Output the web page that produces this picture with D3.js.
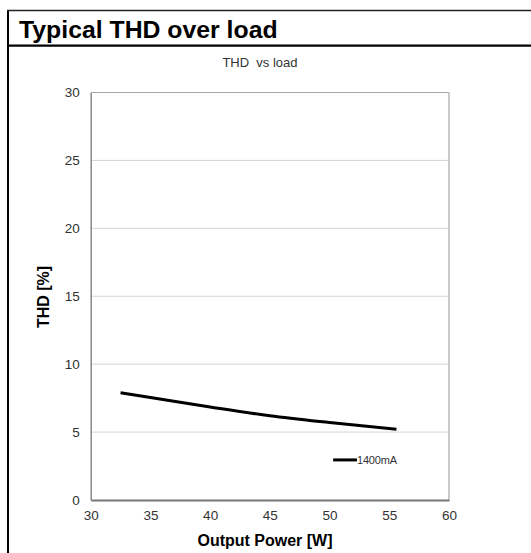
<!DOCTYPE html>
<html>
<head>
<meta charset="utf-8">
<script src="https://cdn.jsdelivr.net/npm/d3@7"></script>
<style>
  html, body { margin: 0; padding: 0; background: #fff; }
  svg { display: block; }
  text { font-family: Arial, "Liberation Sans", sans-serif; }
</style>
</head>
<body>
<svg id="chart" width="531" height="553"></svg>
<script>
// ---- data ----
const outputPower = [32.5, 35, 40, 45, 50, 55.6];
const thd1400mA   = [7.9, 7.55, 6.85, 6.2, 5.7, 5.2];
const seriesName  = "1400mA";
const xTicks = [30, 35, 40, 45, 50, 55, 60];
const yTicks = [0, 5, 10, 15, 20, 25, 30];
const pageTitle = "Typical THD over load";
const chartTitle = "THD  vs load";
const xLabel = "Output Power [W]";
const yLabel = "THD [%]";

// ---- layout ----
const W = 531, H = 553;
const plot = { left: 90.7, right: 449, top: 92.5, bottom: 500 };

const svg = d3.select("#chart");

// frame
svg.append("line").attr("x1", 8).attr("x2", 8).attr("y1", 10).attr("y2", H)
  .attr("stroke", "#000").attr("stroke-width", 2);
svg.append("line").attr("x1", 7).attr("x2", W).attr("y1", 10.5).attr("y2", 10.5)
  .attr("stroke", "#222").attr("stroke-width", 1.5);
svg.append("line").attr("x1", 7).attr("x2", W).attr("y1", 45.7).attr("y2", 45.7)
  .attr("stroke", "#000").attr("stroke-width", 2.2);
svg.append("text").attr("x", 19).attr("y", 37.5)
  .attr("font-size", 24.8).attr("font-weight", "bold").attr("fill", "#000")
  .text(pageTitle);

// scales
const x = d3.scaleLinear().domain([30, 60]).range([plot.left, plot.right]);
const y = d3.scaleLinear().domain([0, 30]).range([plot.bottom, plot.top]);

// gridlines
svg.append("g").selectAll("line").data(yTicks.filter(t => t > 0 && t < 30)).join("line")
  .attr("x1", plot.left).attr("x2", plot.right)
  .attr("y1", d => y(d)).attr("y2", d => y(d))
  .attr("stroke", "#d4d4d4").attr("stroke-width", 1);

// plot box top / right
svg.append("line").attr("x1", plot.left).attr("x2", plot.right)
  .attr("y1", y(30)).attr("y2", y(30)).attr("stroke", "#a8a8a8").attr("stroke-width", 1.2);
svg.append("line").attr("x1", plot.right).attr("x2", plot.right)
  .attr("y1", y(30)).attr("y2", y(0)).attr("stroke", "#a8a8a8").attr("stroke-width", 1.2);

// axes
const xAxis = d3.axisBottom(x).tickValues(xTicks).tickSize(0).tickPadding(10);
const gx = svg.append("g").attr("transform", `translate(0,${plot.bottom})`).call(xAxis);
gx.select(".domain").attr("stroke", "#777").attr("stroke-width", 1.8);
gx.selectAll("text").attr("font-size", 13.5).attr("fill", "#333")
  .attr("font-family", "Arial, 'Liberation Sans', sans-serif");

const yAxis = d3.axisLeft(y).tickValues(yTicks).tickSize(0).tickPadding(11);
const gy = svg.append("g").attr("transform", `translate(${plot.left},0)`).call(yAxis);
gy.select(".domain").attr("stroke", "#888").attr("stroke-width", 1.5);
gy.selectAll("text").attr("font-size", 13.5).attr("fill", "#333")
  .attr("font-family", "Arial, 'Liberation Sans', sans-serif");

// chart title
svg.append("text").attr("x", 260).attr("y", 67).attr("text-anchor", "middle")
  .attr("xml:space", "preserve").style("white-space", "pre")
  .attr("font-size", 13).attr("fill", "#333").text(chartTitle);

// axis labels
svg.append("text").attr("x", 265).attr("y", 546).attr("text-anchor", "middle")
  .attr("font-size", 16).attr("font-weight", "bold").attr("fill", "#000").text(xLabel);
svg.append("text").attr("transform", `translate(49,297) rotate(-90)`)
  .attr("text-anchor", "middle")
  .attr("font-size", 16).attr("font-weight", "bold").attr("fill", "#000").text(yLabel);

// series
const pts = outputPower.map((p, i) => [p, thd1400mA[i]]);
const line = d3.line().x(d => x(d[0])).y(d => y(d[1])).curve(d3.curveMonotoneX);
svg.append("path").datum(pts).attr("d", line)
  .attr("fill", "none").attr("stroke", "#000").attr("stroke-width", 3);

// legend
const lgY = y(2.95);
svg.append("line").attr("x1", x(50.3)).attr("x2", x(52.3)).attr("y1", lgY).attr("y2", lgY)
  .attr("stroke", "#000").attr("stroke-width", 3);
svg.append("text").attr("x", x(52.3)).attr("y", lgY + 3.8)
  .attr("font-size", 11).attr("fill", "#333").attr("letter-spacing", -0.2).text(seriesName);
</script>
</body>
</html>
